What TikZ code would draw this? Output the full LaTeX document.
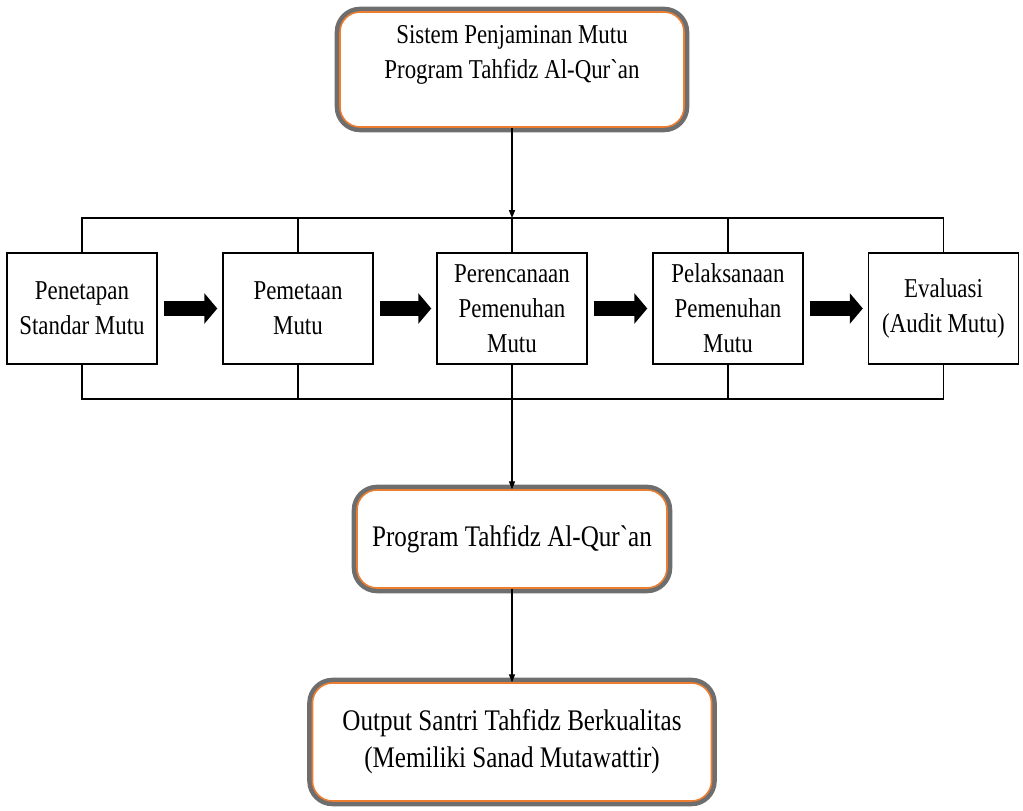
\documentclass[tikz,border=0pt]{standalone}
\usepackage{fontspec}
\setmainfont[FakeStretch=0.84,Ligatures=TeXOff]{Liberation Serif}
\usepackage{tikz}
\usetikzlibrary{arrows.meta}
\definecolor{orangeline}{HTML}{ED7D31}
\definecolor{glowgray}{HTML}{6E6E6E}
\tikzset{
  mainbox/.style={draw=orangeline,line width=0.9pt,fill=white,rounded corners=0.4cm,
    preaction={draw=glowgray,line width=6pt},align=center,inner sep=2pt},
  bigtext/.style={font=\fontsize{17pt}{21pt}\selectfont},
  stepbox/.style={draw,line width=0.8pt,minimum width=3cm,minimum height=2.22cm,align=center,inner sep=1pt},
  bus/.style={line width=0.6pt},
  flow/.style={line width=0.6pt,-{Triangle[length=4.5pt,width=3.5pt]}},
  fat/.style={line width=0.3cm,-{Triangle[length=0.26cm,width=0.6cm]},shorten <=0.12cm,shorten >=0.1cm}
}

\begin{document}
\begin{tikzpicture}[xscale=2,yscale=2]
\fontsize{15.5pt}{20pt}\selectfont
\useasboundingbox (0,0) rectangle (10.23,8.11);

\draw (5.12,7.415) node[mainbox,minimum width=6.88cm,minimum height=2.3cm](sys) {Sistem Penjaminan Mutu\\Program Tahfidz Al-Qur`an\\\mbox{}} ;

\draw (0.82,5.025) node[stepbox](s1) {Penetapan\\Standar Mutu} ;
\draw (2.98,5.025) node[stepbox](s2) {Pemetaan\\Mutu} ;
\draw (5.12,5.025) node[stepbox](s3) {Perencanaan\\Pemenuhan\\Mutu} ;
\draw (7.28,5.025) node[stepbox](s4) {Pelaksanaan\\Pemenuhan\\Mutu} ;
\draw (9.435,5.025) node[stepbox](s5) {Evaluasi\\(Audit Mutu)} ;

\draw (5.12,2.72) node[mainbox,bigtext,minimum width=6.2cm,minimum height=1.96cm](prog) {Program Tahfidz Al-Qur`an} ;
\draw (5.12,0.69) node[mainbox,bigtext,minimum width=7.98cm,minimum height=2.36cm](out) {Output Santri Tahfidz Berkualitas\\(Memiliki Sanad Mutawattir)} ;

\coordinate (tbus) at (5.12,5.93);
\coordinate (bbus) at (5.12,4.12);

\draw[flow] (sys) edge (tbus);

\draw[bus] (s1.north) |- (tbus) -| (s5.north);
\draw[bus] (s2.north) -- (s2.north |- tbus);
\draw[bus] (s3.north) -- (tbus);
\draw[bus] (s4.north) -- (s4.north |- tbus);

\draw[bus] (s1.south) |- (bbus) -| (s5.south);
\draw[bus] (s2.south) -- (s2.south |- bbus);
\draw[bus] (s4.south) -- (s4.south |- bbus);

\draw[fat] (s1) edge (s2);
\draw[fat] (s2) edge (s3);
\draw[fat] (s3) edge (s4);
\draw[fat] (s4) edge (s5);

\draw[flow] (s3) edge (prog);
\draw[flow] (prog) edge (out);
\end{tikzpicture}
\end{document}
